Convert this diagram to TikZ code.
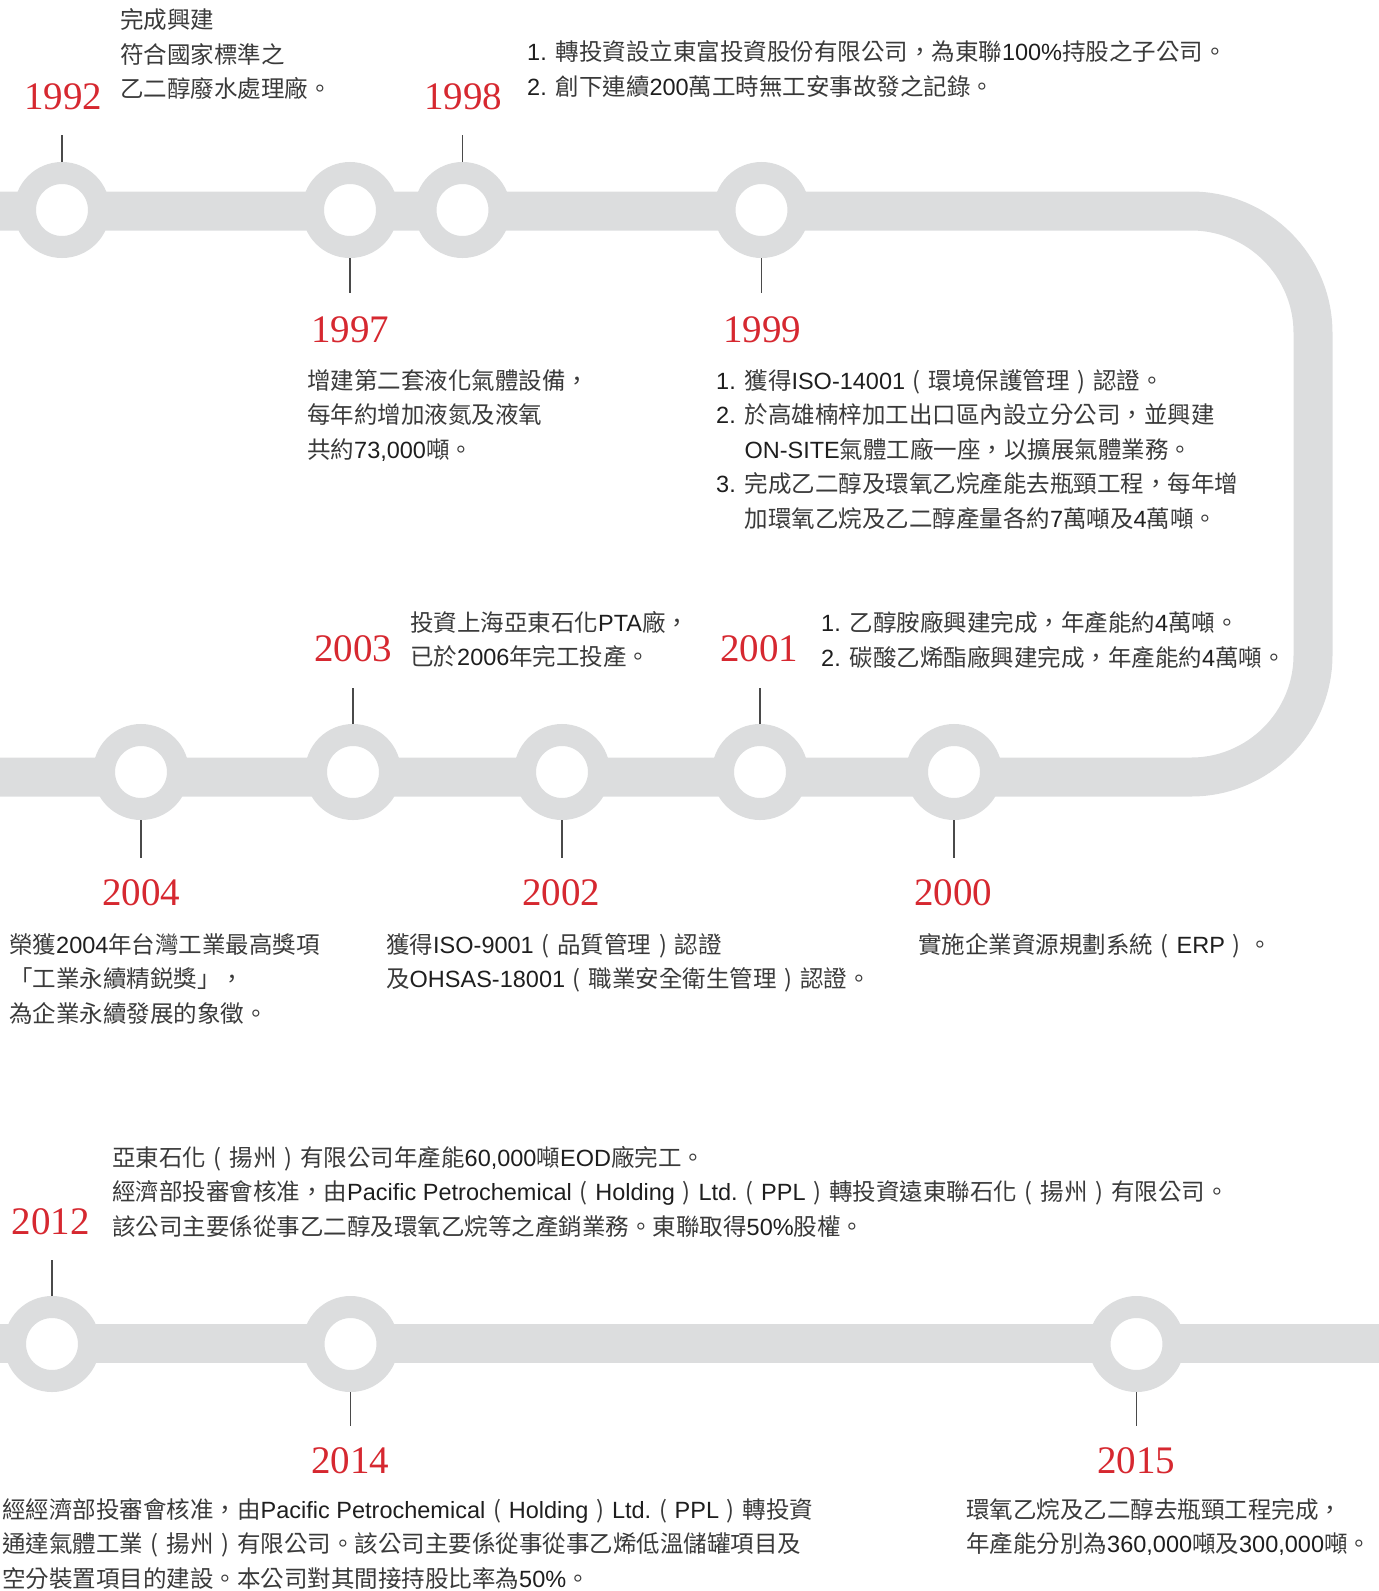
\documentclass[tikz,border=0pt]{standalone}
\usepackage{fontspec}
\setmainfont{Noto Sans CJK TC}
\newfontfamily\latfont{Liberation Sans}
\newfontfamily\yearfont{Liberation Serif}
\definecolor{trackgray}{HTML}{DCDDDE}
\definecolor{yearred}{HTML}{D62830}
\definecolor{bodytext}{HTML}{3A3A3A}
\definecolor{latincol}{HTML}{1E1E1E}
\definecolor{tickcol}{HTML}{4A4A4A}
\newcommand\en[1]{{\latfont\color{latincol}#1}}
\newcommand\lp{\makebox[1em][c]{(}}
\newcommand\rp{\makebox[1em][c]{)}}
\tikzset{
  track/.style={draw=trackgray, line width=39pt},
  ring/.style={circle, draw=trackgray, line width=22pt, fill=white, minimum size=74pt, inner sep=0pt, outer sep=11pt},
  yearlabel/.style={font=\yearfont\fontsize{39pt}{39pt}\selectfont, text=yearred, anchor=base, inner sep=0pt},
  body/.style={font=\fontsize{23.5pt}{34.5pt}\selectfont, text=bodytext, align=left, anchor=base west, inner sep=0pt},
  tickline/.style={draw=tickcol, line width=1.2pt},
}
\begin{document}
\begin{tikzpicture}[x=1pt,y=-1pt]
\useasboundingbox (0,0) rectangle (1379,1591);
\clip (0,0) rectangle (1379,1591);
% tracks
\draw[track, rounded corners=122pt] (-20,211) -- (1313,211) -- (1313,777) -- (-20,777);
\draw[track] (-20,1343) -- (1400,1343);
% rings
\node[ring] (c1992) at (62,210) {};
\node[ring] (c1997) at (350,210) {};
\node[ring] (c1998) at (462.5,210) {};
\node[ring] (c1999) at (761.5,210) {};
\node[ring] (c2004) at (141,772) {};
\node[ring] (c2003) at (353,772) {};
\node[ring] (c2002) at (562,772) {};
\node[ring] (c2001) at (760,772) {};
\node[ring] (c2000) at (954,772) {};
\node[ring] (c2012) at (52,1344) {};
\node[ring] (c2014) at (350.5,1344) {};
\node[ring] (c2015) at (1136.5,1344) {};
% ticks
\draw[tickline] (c1992.north) -- ++(0,-27);
\draw[tickline] (c1998.north) -- ++(0,-27);
\draw[tickline] (c1997.south) -- ++(0,35);
\draw[tickline] (c1999.south) -- ++(0,35);
\draw[tickline] (c2003.north) -- ++(0,-36);
\draw[tickline] (c2001.north) -- ++(0,-36);
\draw[tickline] (c2004.south) -- ++(0,38);
\draw[tickline] (c2002.south) -- ++(0,38);
\draw[tickline] (c2000.south) -- ++(0,38);
\draw[tickline] (c2012.north) -- ++(0,-36);
\draw[tickline] (c2014.south) -- ++(0,34);
\draw[tickline] (c2015.south) -- ++(0,34);
% years
\node[yearlabel] (y1992) at (63,109) {1992};
\node[yearlabel] (y1998) at (463,109) {1998};
\node[yearlabel] (y1997) at (350,342) {1997};
\node[yearlabel] (y1999) at (762,342) {1999};
\node[yearlabel] (y2003) at (353,661) {2003};
\node[yearlabel] (y2001) at (759,661) {2001};
\node[yearlabel] (y2004) at (141,905) {2004};
\node[yearlabel] (y2002) at (561,905) {2002};
\node[yearlabel] (y2000) at (953,905) {2000};
\node[yearlabel] (y2012) at (51,1234) {2012};
\node[yearlabel] (y2014) at (350,1473) {2014};
\node[yearlabel] (y2015) at (1136,1473) {2015};
% texts (anchor = baseline of the last line)
\node[body] (t1992) at (120,97.5) {完成興建\\符合國家標準之\\乙二醇廢水處理廠。};
\node[body] (t1998) at (527,95) {\en{1. }轉投資設立東富投資股份有限公司，為東聯\en{100\%}持股之子公司。\\\en{2. }創下連續\en{200}萬工時無工安事故發之記錄。};
\node[body] (t1997) at (307,458) {增建第二套液化氣體設備，\\每年約增加液氮及液氧\\共約\en{73,000}噸。};
\node[body] (t1999) at (716,527) {\en{1. }獲得\en{ISO-14001}\lp 環境保護管理\rp 認證。\\\en{2. }於高雄楠梓加工出口區內設立分公司，並興建\\\hphantom{\en{2. }}\en{ON-SITE}氣體工廠一座，以擴展氣體業務。\\\en{3. }完成乙二醇及環氧乙烷產能去瓶頸工程，每年增\\\hphantom{\en{3. }}加環氧乙烷及乙二醇產量各約\en{7}萬噸及\en{4}萬噸。};
\node[body] (t2003) at (410,665.5) {投資上海亞東石化\en{PTA}廠，\\已於\en{2006}年完工投產。};
\node[body] (t2001) at (821,666) {\en{1. }乙醇胺廠興建完成，年產能約\en{4}萬噸。\\\en{2. }碳酸乙烯酯廠興建完成，年產能約\en{4}萬噸。};
\node[body] (t2004) at (9,1022) {榮獲\en{2004}年台灣工業最高獎項\\「工業永續精鋭獎」，\\為企業永續發展的象徵。};
\node[body] (t2002) at (386,987.5) {獲得\en{ISO-9001}\lp 品質管理\rp 認證\\及\en{OHSAS-18001}\lp 職業安全衛生管理\rp 認證。};
\node[body] (t2000) at (918,953) {實施企業資源規劃系統\lp\en{ERP}\rp。};
\node[body] (t2012) at (112,1235) {亞東石化\lp 揚州\rp 有限公司年產能\en{60,000}噸\en{EOD}廠完工。\\經濟部投審會核准，由\en{Pacific Petrochemical}\lp\en{Holding}\rp\en{Ltd.}\lp\en{PPL}\rp 轉投資遠東聯石化\lp 揚州\rp 有限公司。\\該公司主要係從事乙二醇及環氧乙烷等之產銷業務。東聯取得\en{50\%}股權。};
\node[body] (t2014) at (2,1587) {經經濟部投審會核准，由\en{Pacific Petrochemical}\lp\en{Holding}\rp\en{Ltd.}\lp\en{PPL}\rp 轉投資\\通達氣體工業\lp 揚州\rp 有限公司。該公司主要係從事從事乙烯低溫儲罐項目及\\空分裝置項目的建設。本公司對其間接持股比率為\en{50\%}。};
\node[body] (t2015) at (966,1552.5) {環氧乙烷及乙二醇去瓶頸工程完成，\\年產能分別為\en{360,000}噸及\en{300,000}噸。};
\end{tikzpicture}
\end{document}
